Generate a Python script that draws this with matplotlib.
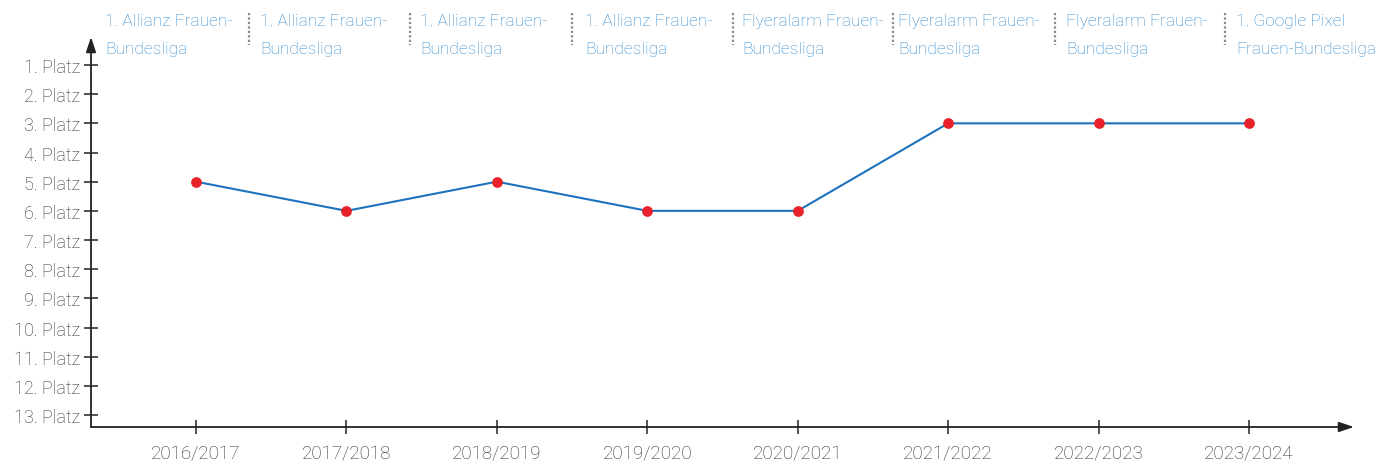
import matplotlib
matplotlib.use("Agg")
import matplotlib.pyplot as plt
from matplotlib.lines import Line2D

plt.rcParams['font.family'] = ['Roboto', 'DejaVu Sans']
plt.rcParams['font.weight'] = 'light'

seasons = ["2016/2017", "2017/2018", "2018/2019", "2019/2020",
           "2020/2021", "2021/2022", "2022/2023", "2023/2024"]
ranks = [5, 6, 5, 6, 6, 3, 3, 3]
leagues = ["1. Allianz Frauen-\nBundesliga", "1. Allianz Frauen-\nBundesliga",
           "1. Allianz Frauen-\nBundesliga", "1. Allianz Frauen-\nBundesliga",
           "Flyeralarm Frauen-\nBundesliga", "Flyeralarm Frauen-\nBundesliga",
           "Flyeralarm Frauen-\nBundesliga", "1. Google Pixel\nFrauen-Bundesliga"]
rank_labels = [f"{i}. Platz" for i in range(1, 14)]

# layout (pixels)
W, H = 1376, 464
label_x_px = [105, 260, 420, 585, 742, 898, 1066, 1236]
sep_x_px = [249, 410, 572, 733, 893, 1055, 1225]

fig = plt.figure(figsize=(W / 100, H / 100), dpi=100)
ax = fig.add_axes([91 / W, (H - 428) / H, (1354 - 91) / W, (428 - 38) / H])

xs = list(range(len(seasons)))
ax.plot(xs, ranks, color="#1d72bd", lw=1.5, zorder=2)
ax.scatter(xs, ranks, s=60, color="#e8222b", zorder=3, linewidths=0)

ax.set_xlim(-0.698, 7.698)
ax.set_ylim(13.41, 0.04)
ax.set_xticks(xs)
ax.set_xticklabels(seasons)
ax.set_yticks(range(1, 14))
ax.set_yticklabels(rank_labels)

for s in ax.spines.values():
    s.set_visible(False)

axcol = "#222222"
ax.tick_params(axis='both', direction='inout', length=10, width=1.1, color=axcol,
               labelcolor="#2e2e2e")
ax.tick_params(axis='x', pad=7, labelsize=13.5)
ax.tick_params(axis='y', pad=3, labelsize=13)

ax.annotate('', xy=(0, 1), xytext=(0, 0), xycoords='axes fraction',
            arrowprops=dict(arrowstyle='-|>,head_length=0.9,head_width=0.3',
                            lw=1.3, color=axcol, shrinkA=0, shrinkB=0))
ax.annotate('', xy=(1, 0), xytext=(0, 0), xycoords='axes fraction',
            arrowprops=dict(arrowstyle='-|>,head_length=0.9,head_width=0.3',
                            lw=1.3, color=axcol, shrinkA=0, shrinkB=0))

for px, txt in zip(label_x_px, leagues):
    fig.text(px / W, 1 - 14 / H, txt, ha='left', va='top', fontsize=12.5,
             color="#2f8ad0", linespacing=2.05)

for px in sep_x_px:
    fig.add_artist(Line2D([px / W, px / W], [1 - 14 / H, 1 - 46 / H],
                          transform=fig.transFigure, color="#8a8a8a",
                          lw=1.6, linestyle=(0, (1, 1))))

fig.savefig("out.png", dpi=100)
